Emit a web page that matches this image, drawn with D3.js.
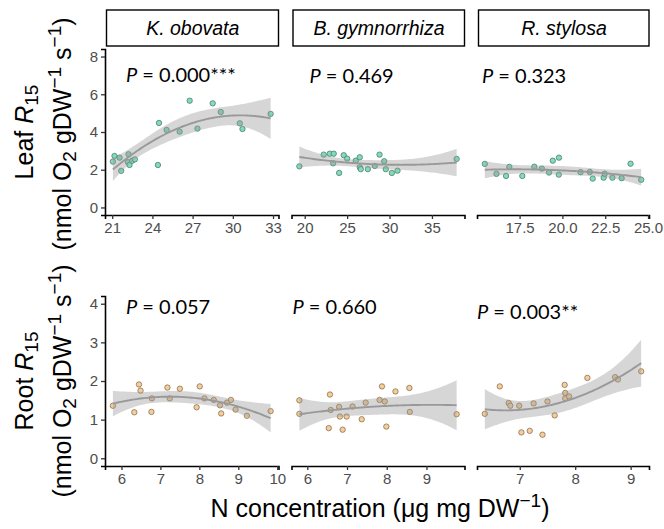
<!DOCTYPE html>
<html lang="en">
<head>
    <meta charset="UTF-8">
    <title>Leaf and root R15 vs N concentration</title>
    <script src="https://d3js.org/d3.v7.min.js"></script>
    <style>
        body { margin: 0; background: #fff; }
        .tick-label { font-family: "Liberation Sans", Arial, sans-serif; font-size: 15px; fill: #4d4d4d; }
        .title { font-family: "Liberation Sans", Arial, sans-serif; font-size: 25px; fill: #000; }
        .strip-text { font-family: "Liberation Sans", Arial, sans-serif; font-size: 19.5px; font-style: italic; }
        .pval { font-family: Lato, "Liberation Sans", sans-serif; font-size: 20px; fill: #000; }
    </style>
</head>
<body>
<svg id="chart" width="664" height="529"></svg>
<script>
// species (facet strips)
var species = ["K. obovata", "B. gymnorrhiza", "R. stylosa"];

// leaf N concentration (x) and leaf R15 (y), per species
var leafX_K = [21.05, 21.17, 21.55, 21.67, 22.22, 22.17, 22.29, 22.49, 22.69, 24.41, 24.49, 25.06, 26.03, 26.78, 27.36, 28.5, 29.1, 30.52, 30.72, 32.82];
var leafY_K = [2.43, 2.73, 2.64, 1.94, 2.82, 2.40, 2.25, 2.48, 2.55, 2.25, 4.48, 4.11, 4.02, 5.66, 4.18, 5.52, 5.06, 4.46, 4.16, 4.96];
var leafX_B = [19.37, 22.24, 22.95, 23.42, 23.35, 24.06, 24.6, 25.0, 26.02, 26.49, 26.49, 26.61, 27.44, 28.26, 28.82, 29.37, 29.56, 30.27, 30.94, 37.91];
var leafY_B = [2.18, 2.80, 2.85, 2.85, 2.34, 1.83, 2.77, 2.59, 2.48, 2.66, 2.13, 2.03, 2.03, 2.20, 2.80, 2.45, 2.03, 1.83, 1.95, 2.57];
var leafX_R = [15.47, 16.15, 16.71, 16.9, 17.66, 18.36, 18.8, 19.22, 19.44, 19.8, 19.79, 21.06, 21.6, 21.77, 22.41, 22.47, 22.92, 23.46, 23.98, 24.6];
var leafY_R = [2.31, 1.78, 1.67, 2.15, 1.67, 2.16, 2.06, 1.85, 2.48, 2.64, 1.74, 1.87, 1.88, 1.53, 1.58, 1.79, 1.58, 1.55, 2.32, 1.47];

// root N concentration (x) and root R15 (y), per species
var rootX_K = [5.78, 6.33, 6.45, 6.49, 6.77, 6.78, 7.18, 7.24, 7.5, 7.93, 8.01, 8.13, 8.37, 8.53, 8.56, 8.71, 8.81, 8.93, 9.22, 9.83];
var rootY_K = [1.36, 1.19, 1.91, 1.75, 1.20, 1.55, 1.83, 1.55, 1.80, 1.32, 1.86, 1.55, 1.51, 1.37, 1.16, 1.44, 1.51, 1.26, 1.10, 1.22];
var rootX_B = [5.80, 5.80, 6.54, 6.57, 6.59, 6.80, 6.82, 6.89, 6.99, 7.14, 7.37, 7.47, 7.82, 7.88, 7.95, 7.99, 8.22, 8.57, 8.58, 9.76];
var rootY_B = [1.50, 1.15, 0.78, 1.65, 1.25, 1.33, 1.08, 0.74, 1.08, 1.34, 1.01, 1.44, 1.51, 1.86, 1.47, 0.82, 1.73, 1.82, 1.20, 1.14];
var rootX_R = [6.37, 6.64, 6.80, 6.83, 6.99, 7.03, 7.18, 7.25, 7.41, 7.50, 7.63, 7.81, 7.82, 7.82, 7.89, 8.22, 8.72, 8.77, 9.19];
var rootY_R = [1.15, 1.86, 1.43, 1.36, 1.36, 0.67, 0.71, 1.42, 0.61, 1.47, 1.11, 1.90, 1.69, 1.55, 1.60, 2.08, 2.10, 2.04, 2.25];

// P values shown in each panel
var leafP = ["0.000***", "0.469", "0.323"];
var rootP = ["0.057", "0.660", "0.003**"];

// tick labels
var leafXTicks = [[21, 24, 27, 30, 33], [20, 25, 30, 35], [17.5, 20.0, 22.5, 25.0]];
var rootXTicks = [[6, 7, 8, 9, 10], [6, 7, 8, 9], [7, 8, 9]];
var leafYTicks = [0, 2, 4, 6, 8];
var rootYTicks = [0, 1, 2, 3, 4];

var svg = d3.select("#chart");

// panel columns
var cols = [[105, 278.5], [291.5, 464.5], [477, 649]];

function expand(ext, f) {
    var r = ext[1] - ext[0];
    return [ext[0] - r * f, ext[1] + r * f];
}

// quadratic least squares fit with 95% confidence band
function quadFit(xs, ys) {
    var n = xs.length;
    var xm = d3.mean(xs);
    var A = [[0, 0, 0], [0, 0, 0], [0, 0, 0]], b = [0, 0, 0];
    xs.forEach(function (x, i) {
        var r = [1, x - xm, (x - xm) * (x - xm)];
        for (var j = 0; j < 3; j++) {
            b[j] += r[j] * ys[i];
            for (var k = 0; k < 3; k++) A[j][k] += r[j] * r[k];
        }
    });
    var inv = inv3(A);
    var beta = [0, 1, 2].map(function (j) { return inv[j][0] * b[0] + inv[j][1] * b[1] + inv[j][2] * b[2]; });
    var pred = function (x) { var d = x - xm; return beta[0] + beta[1] * d + beta[2] * d * d; };
    var sse = d3.sum(xs, function (x, i) { var e = ys[i] - pred(x); return e * e; });
    var s = Math.sqrt(sse / (n - 3));
    var t = n - 3 === 17 ? 2.110 : 2.120;
    var ext = d3.extent(xs);
    var grid = d3.range(81).map(function (i) { return ext[0] + (ext[1] - ext[0]) * i / 80; });
    return grid.map(function (x) {
        var r = [1, x - xm, (x - xm) * (x - xm)];
        var q = 0;
        for (var j = 0; j < 3; j++) for (var k = 0; k < 3; k++) q += r[j] * inv[j][k] * r[k];
        var se = s * Math.sqrt(q);
        var y = pred(x);
        return { x: x, y: y, lo: y - t * se, hi: y + t * se };
    });
}

function inv3(m) {
    var a = m[0][0], b = m[0][1], c = m[0][2], d = m[1][0], e = m[1][1], f = m[1][2], g = m[2][0], h = m[2][1], i = m[2][2];
    var A = e * i - f * h, B = -(d * i - f * g), C = d * h - e * g;
    var det = a * A + b * B + c * C;
    return [
        [A / det, -(b * i - c * h) / det, (b * f - c * e) / det],
        [B / det, (a * i - c * g) / det, -(a * f - c * d) / det],
        [C / det, -(a * h - b * g) / det, (a * e - b * d) / det]
    ];
}

function drawRow(opts) {
    var y = d3.scaleLinear().domain(opts.yDomain).range(opts.yRange);
    var bottom = opts.yRange[0];

    opts.xs.forEach(function (xs, p) {
        var ys = opts.ys[p];
        var x = d3.scaleLinear().domain(expand(d3.extent(xs), 0.05)).range(cols[p]);
        var g = svg.append("g");

        // points
        g.selectAll("circle").data(xs).enter().append("circle")
            .attr("cx", function (d) { return x(d); })
            .attr("cy", function (d, i) { return y(ys[i]); })
            .attr("r", 2.7)
            .attr("fill", opts.fill)
            .attr("stroke", opts.stroke)
            .attr("stroke-width", 0.7);

        // smooth + ribbon
        var fit = quadFit(xs, ys);
        g.append("path").datum(fit)
            .attr("fill", "#999999").attr("fill-opacity", 0.4)
            .attr("d", d3.area().x(function (d) { return x(d.x); })
                .y0(function (d) { return y(d.lo); }).y1(function (d) { return y(d.hi); }));
        g.append("path").datum(fit)
            .attr("fill", "none").attr("stroke", "#999999").attr("stroke-width", 1.9)
            .attr("d", d3.line().x(function (d) { return x(d.x); }).y(function (d) { return y(d.y); }));

        // x axis
        var ax = g.append("g").attr("transform", "translate(0," + bottom + ")")
            .call(d3.axisBottom(x).tickValues(opts.xTicks[p]).tickSize(4).tickPadding(3)
                .tickFormat(opts.xFormat[p]));
        ax.select(".domain").attr("stroke", "#000").attr("stroke-width", 1.6);
        ax.selectAll(".tick line").attr("stroke", "#333").attr("stroke-width", 1.3);
        ax.selectAll(".tick text").attr("class", "tick-label").attr("font-size", null).attr("font-family", null).attr("fill", null);

        // y axis on first panel only
        if (p === 0) {
            var ay = g.append("g").attr("transform", "translate(" + cols[0][0] + ",0)")
                .call(d3.axisLeft(y).tickValues(opts.yTicks).tickSize(4).tickPadding(3)
                    .tickFormat(d3.format("d")));
            ay.select(".domain").attr("stroke", "#000").attr("stroke-width", 1.6);
            ay.selectAll(".tick line").attr("stroke", "#333").attr("stroke-width", 1.3);
            ay.selectAll(".tick text").attr("class", "tick-label").attr("font-size", null).attr("font-family", null).attr("fill", null);
        }

        // P value label
        var pt = g.append("text").attr("class", "pval")
            .attr("x", cols[p][0] + opts.pOffset[p][0])
            .attr("y", opts.pOffset[p][1]);
        pt.append("tspan").attr("font-style", "italic").text("P");
        pt.append("tspan").text(" = " + opts.p[p]);

        // strips
        if (opts.strips) {
            g.append("rect")
                .attr("x", cols[p][0] + 1.5).attr("y", 10)
                .attr("width", cols[p][1] - cols[p][0] - 1.5).attr("height", 36)
                .attr("fill", "#fff").attr("stroke", "#000").attr("stroke-width", 1.4);
            g.append("text").attr("class", "strip-text")
                .attr("x", (cols[p][0] + cols[p][1]) / 2 + 1).attr("y", 35)
                .attr("text-anchor", "middle").text(species[p]);
        }
    });
}

var f1 = d3.format(".1f"), f0 = d3.format("d");

drawRow({
    xs: [leafX_K, leafX_B, leafX_R], ys: [leafY_K, leafY_B, leafY_R],
    yDomain: [-0.4, 8.4], yRange: [215, 49], yTicks: leafYTicks,
    xTicks: leafXTicks, xFormat: [f0, f0, f1],
    fill: "#80dcbb", stroke: "#44705f",
    p: leafP, pOffset: [[21, 82], [18, 83], [5, 83]], strips: true
});

drawRow({
    xs: [rootX_K, rootX_B, rootX_R], ys: [rootY_K, rootY_B, rootY_R],
    yDomain: [-0.2, 4.2], yRange: [466, 296], yTicks: rootYTicks,
    xTicks: rootXTicks, xFormat: [f0, f0, f0],
    fill: "#f4cd9a", stroke: "#7d6242",
    p: rootP, pOffset: [[21, 314], [1, 314], [0, 319]], strips: false
});

// y axis titles
function yTitle(cx, cy, parts) {
    var t = svg.append("text").attr("class", "title")
        .attr("transform", "translate(" + cx + "," + cy + ") rotate(-90)")
        .attr("text-anchor", "middle");
    parts.forEach(function (p) {
        var s = t.append("tspan").text(p.t);
        if (p.i) s.attr("font-style", "italic");
        if (p.sub) s.attr("font-size", 19).attr("dy", 5);
        if (p.sup) s.attr("font-size", 19).attr("dy", -10);
        if (p.back) s.attr("dy", p.back);
    });
}

var leafLab = [{ t: "Leaf " }, { t: "R", i: true }, { t: "15", sub: true }];
var rootLab = [{ t: "Root " }, { t: "R", i: true }, { t: "15", sub: true }];
var unitLab = [{ t: "(nmol O" }, { t: "2", sub: true }, { t: " gDW", back: -5 }, { t: "\u22121", sup: true },
    { t: " s", back: 10 }, { t: "\u22121", sup: true }, { t: ")", back: 10 }];

yTitle(33, 132, leafLab);
yTitle(71, 134, unitLab);
yTitle(33, 381, rootLab);
yTitle(71, 381, unitLab);

// x axis title
var xt = svg.append("text").attr("class", "title")
    .attr("x", 380).attr("y", 517).attr("text-anchor", "middle");
xt.append("tspan").text("N concentration (\u03bcg mg DW");
xt.append("tspan").attr("font-size", 19).attr("dy", -10).text("\u22121");
xt.append("tspan").attr("dy", 10).text(")");
</script>
</body>
</html>
